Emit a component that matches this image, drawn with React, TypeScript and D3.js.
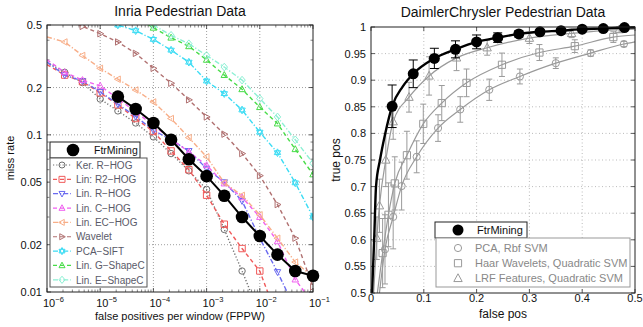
import * as d3 from "d3";

const FONT = '"Liberation Sans", Arial, Helvetica, sans-serif';

// ---------- Inria Pedestrian Data (log-log) ----------
const FPPW = [1e-6, 2.15e-6, 4.64e-6, 1e-5, 2.15e-5, 4.64e-5, 1e-4, 2.15e-4, 4.64e-4, 1e-3, 2.15e-3, 4.64e-3, 1e-2, 2.15e-2, 4.64e-2, 1e-1];
const ftrMiningMiss = [null, null, null, null, 0.175, 0.146, 0.119, 0.093, 0.07, 0.0546, 0.041, 0.03, 0.0227, 0.0173, 0.0136, 0.0127];
const kerRHogMiss = [0.29, 0.25, 0.215, 0.169, 0.142, 0.119, 0.097, 0.076, 0.059, 0.045, 0.025, 0.0136, 0.0072, null, null, null];
const linR2HogMiss = [0.28, 0.24, 0.218, 0.185, 0.155, 0.127, 0.105, 0.079, 0.06, 0.0413, 0.027, 0.0189, 0.0136, 0.0068, null, null];
const linRHogMiss = [0.29, 0.24, 0.22, 0.188, 0.157, 0.131, 0.107, 0.093, 0.079, 0.061, 0.05, 0.038, 0.022, 0.0134, 0.0078, null];
const linCHogMiss = [0.3, 0.25, 0.223, 0.205, 0.17, 0.14, 0.115, 0.094, 0.078, 0.064, 0.049, 0.04, 0.03, 0.021, 0.012, 0.0085];
const linECHogMiss = [0.42, 0.39, 0.32, 0.265, 0.226, 0.193, 0.162, 0.127, 0.096, 0.0725, 0.0495, 0.0412, 0.031, 0.022, 0.0155, 0.0125];
const waveletMiss = [null, 0.55, 0.49, 0.44, 0.39, 0.33, 0.265, 0.213, 0.167, 0.13, 0.101, 0.076, 0.055, 0.036, 0.022, 0.0108];
const pcaSiftMiss = [null, null, null, 0.56, 0.5, 0.46, 0.405, 0.346, 0.29, 0.22, 0.183, 0.144, 0.104, 0.077, 0.0495, 0.03];
const linGShapeMiss = [null, null, null, null, null, 0.56, 0.48, 0.415, 0.366, 0.3, 0.24, 0.195, 0.15, 0.118, 0.081, 0.056];
const linEShapeMiss = [null, null, null, null, null, null, 0.5, 0.43, 0.38, 0.32, 0.27, 0.223, 0.17, 0.13, 0.093, 0.066];

const INRIA_X_TICKS = [-6, -5, -4, -3, -2, -1];
const INRIA_Y_TICKS = [0.01, 0.02, 0.05, 0.1, 0.2, 0.5];

type Marker = "circle" | "square" | "down" | "up" | "left" | "right" | "hex" | "diamond";

const inriaSeries: { label: string; values: (number | null)[]; color: string; dash: string; marker: Marker }[] = [
  { label: "Ker. R\u2212HOG", values: kerRHogMiss, color: "#707070", dash: "1.2 2", marker: "circle" },
  { label: "Lin: R2\u2212HOG", values: linR2HogMiss, color: "#f05a5a", dash: "4 3", marker: "square" },
  { label: "Lin. R\u2212HOG", values: linRHogMiss, color: "#6a6af0", dash: "5 2 1.2 2", marker: "down" },
  { label: "Lin. C\u2212HOG", values: linCHogMiss, color: "#f060f0", dash: "4 3", marker: "up" },
  { label: "Lin. EC\u2212HOG", values: linECHogMiss, color: "#f8ae88", dash: "5 2 1.2 2", marker: "left" },
  { label: "Wavelet", values: waveletMiss, color: "#b07070", dash: "4 3", marker: "right" },
  { label: "PCA\u2212SIFT", values: pcaSiftMiss, color: "#3adcf4", dash: "5 2 1.2 2", marker: "hex" },
  { label: "Lin. G\u2212ShapeC", values: linGShapeMiss, color: "#48dc48", dash: "4 3", marker: "up" },
  { label: "Lin. E\u2212ShapeC", values: linEShapeMiss, color: "#8cf0d4", dash: "5 2 1.2 2", marker: "diamond" },
];

// ---------- DaimlerChrysler Pedestrian Data ----------
const ftrFP = [0.04, 0.08, 0.12, 0.16, 0.2, 0.24, 0.28, 0.32, 0.36, 0.4, 0.44, 0.48];
const ftrTP = [0.851, 0.912, 0.941, 0.958, 0.972, 0.98, 0.987, 0.991, 0.993, 0.996, 0.997, 0.999];
const ftrErr = [0.04, 0.026, 0.019, 0.016, 0.013, 0.009, 0.006, 0.004, 0.003, 0.002, 0.002, 0.001];
const ftrCurveFP = [0.002, 0.006, 0.0095, 0.017, 0.027, 0.04, 0.06, 0.08, 0.12, 0.16, 0.2, 0.24, 0.28, 0.32, 0.36, 0.4, 0.44, 0.48, 0.5];
const ftrCurveTP = [0.5, 0.6, 0.7, 0.75, 0.8, 0.851, 0.888, 0.912, 0.941, 0.958, 0.972, 0.98, 0.987, 0.991, 0.993, 0.996, 0.997, 0.999, 0.999];

const pcaFP = [0.0265, 0.042, 0.058, 0.0865, 0.127, 0.169, 0.224, 0.282, 0.35, 0.416, 0.479];
const pcaTP = [0.582, 0.643, 0.701, 0.756, 0.81, 0.845, 0.882, 0.907, 0.932, 0.951, 0.968];
const pcaErr = [0.065, 0.06, 0.045, 0.03, 0.025, 0.024, 0.02, 0.014, 0.01, 0.006, 0.005];
const pcaCurveEnds = [[0.016, 0.5], [0.5, 0.972]];

const haarFP = [0.022, 0.033, 0.045, 0.068, 0.099, 0.134, 0.181, 0.248, 0.319, 0.386, 0.459];
const haarTP = [0.575, 0.647, 0.706, 0.759, 0.818, 0.857, 0.895, 0.929, 0.952, 0.964, 0.981];
const haarErr = [0.065, 0.06, 0.05, 0.045, 0.037, 0.033, 0.026, 0.022, 0.015, 0.012, 0.01];
const haarCurveEnds = [[0.012, 0.5], [0.5, 0.985]];

const lrfFP = [0.011, 0.016, 0.028, 0.042, 0.072, 0.11, 0.162, 0.22, 0.3, 0.38, 0.47];
const lrfTP = [0.603, 0.664, 0.75, 0.822, 0.868, 0.908, 0.942, 0.961, 0.979, 0.988, 0.995];
const lrfErr = [0.04, 0.05, 0.05, 0.033, 0.028, 0.036, 0.024, 0.014, 0.01, 0.008, 0.005];
const lrfCurveEnds = [[0.005, 0.5], [0.5, 0.996]];

const DC_X_TICKS = [0, 0.1, 0.2, 0.3, 0.4, 0.5];
const DC_Y_TICKS = [0.5, 0.55, 0.6, 0.65, 0.7, 0.75, 0.8, 0.85, 0.9, 0.95, 1];

const dcSeries: { label: string; fp: number[]; tp: number[]; err: number[]; ends: number[][]; marker: Marker }[] = [
  { label: "PCA, Rbf SVM", fp: pcaFP, tp: pcaTP, err: pcaErr, ends: pcaCurveEnds, marker: "circle" },
  { label: "Haar Wavelets, Quadratic SVM", fp: haarFP, tp: haarTP, err: haarErr, ends: haarCurveEnds, marker: "square" },
  { label: "LRF Features, Quadratic SVM", fp: lrfFP, tp: lrfTP, err: lrfErr, ends: lrfCurveEnds, marker: "up" },
];

function markerPath(kind: Marker, cx: number, cy: number, s: number): string {
  switch (kind) {
    case "square":
      return `M${cx - s},${cy - s}H${cx + s}V${cy + s}H${cx - s}Z`;
    case "up":
      return `M${cx},${cy - s * 1.1}L${cx + s},${cy + s * 0.75}L${cx - s},${cy + s * 0.75}Z`;
    case "down":
      return `M${cx},${cy + s * 1.1}L${cx + s},${cy - s * 0.75}L${cx - s},${cy - s * 0.75}Z`;
    case "left":
      return `M${cx - s * 1.1},${cy}L${cx + s * 0.75},${cy - s}L${cx + s * 0.75},${cy + s}Z`;
    case "right":
      return `M${cx + s * 1.1},${cy}L${cx - s * 0.75},${cy - s}L${cx - s * 0.75},${cy + s}Z`;
    case "diamond":
      return `M${cx},${cy - s * 1.2}L${cx + s},${cy}L${cx},${cy + s * 1.2}L${cx - s},${cy}Z`;
    case "hex":
      return (
        `M${cx},${cy - s * 1.2}L${cx + s},${cy + s * 0.6}L${cx - s},${cy + s * 0.6}Z` +
        `M${cx},${cy + s * 1.2}L${cx + s},${cy - s * 0.6}L${cx - s},${cy - s * 0.6}Z`
      );
    default: {
      const r = s;
      return `M${cx - r},${cy}A${r},${r} 0 1,0 ${cx + r},${cy}A${r},${r} 0 1,0 ${cx - r},${cy}Z`;
    }
  }
}

const L = { left: 47, right: 313, top: 25, bottom: 292 };
const R = { left: 371, right: 635, top: 27, bottom: 293 };

function InriaChart() {
  const x = d3.scaleLog().domain([1e-6, 1e-1]).range([L.left, L.right]);
  const y = d3.scaleLog().domain([0.01, 0.5]).range([L.bottom, L.top]);
  const line = d3
    .line<[number, number | null]>()
    .defined((d) => d[1] != null)
    .x((d) => x(d[0]))
    .y((d) => y(d[1] as number));

  const minorX: number[] = [];
  for (let e = -6; e < -1; e++) for (let m = 2; m <= 9; m++) minorX.push(m * Math.pow(10, e));
  const minorY: number[] = [];
  for (let e = -2; e < 0; e++) for (let m = 1; m <= 9; m++) {
    const v = m * Math.pow(10, e);
    if (v <= 0.5 && !INRIA_Y_TICKS.includes(+v.toFixed(4))) minorY.push(v);
  }

  const ftrPts = FPPW.map((f, i) => [f, ftrMiningMiss[i]] as [number, number | null]);

  return (
    <g fontFamily={FONT}>
      <defs>
        <clipPath id="clipL">
          <rect x={L.left} y={L.top} width={L.right - L.left} height={L.bottom - L.top} />
        </clipPath>
      </defs>
      <rect x={L.left} y={L.top} width={L.right - L.left} height={L.bottom - L.top} fill="#fff" />
      {/* grid */}
      {INRIA_X_TICKS.slice(1, -1).map((e) => (
        <line key={"gx" + e} x1={x(Math.pow(10, e))} x2={x(Math.pow(10, e))} y1={L.top} y2={L.bottom} stroke="#888" strokeWidth={0.8} strokeDasharray="1 2" />
      ))}
      {INRIA_Y_TICKS.slice(1, -1).map((v) => (
        <line key={"gy" + v} x1={L.left} x2={L.right} y1={y(v)} y2={y(v)} stroke="#888" strokeWidth={0.8} strokeDasharray="1 2" />
      ))}
      {/* ticks */}
      {minorX.map((v, i) => (
        <g key={"mx" + i} stroke="#333" strokeWidth={0.6}>
          <line x1={x(v)} x2={x(v)} y1={L.bottom} y2={L.bottom - 2.5} />
          <line x1={x(v)} x2={x(v)} y1={L.top} y2={L.top + 2.5} />
        </g>
      ))}
      {INRIA_X_TICKS.map((e) => (
        <g key={"tx" + e} stroke="#333" strokeWidth={0.8}>
          <line x1={x(Math.pow(10, e))} x2={x(Math.pow(10, e))} y1={L.bottom} y2={L.bottom - 4} />
          <line x1={x(Math.pow(10, e))} x2={x(Math.pow(10, e))} y1={L.top} y2={L.top + 4} />
        </g>
      ))}
      {minorY.map((v, i) => (
        <g key={"my" + i} stroke="#333" strokeWidth={0.6}>
          <line x1={L.left} x2={L.left + 2.5} y1={y(v)} y2={y(v)} />
          <line x1={L.right} x2={L.right - 2.5} y1={y(v)} y2={y(v)} />
        </g>
      ))}
      {INRIA_Y_TICKS.map((v) => (
        <g key={"ty" + v}>
          <line x1={L.left} x2={L.left + 4} y1={y(v)} y2={y(v)} stroke="#333" strokeWidth={0.8} />
          <line x1={L.right} x2={L.right - 4} y1={y(v)} y2={y(v)} stroke="#333" strokeWidth={0.8} />
          <text x={42} y={y(v) + 4} textAnchor="end" fontSize={11} fill="#111">
            {String(v)}
          </text>
        </g>
      ))}
      {INRIA_X_TICKS.map((e) => (
        <text key={"lx" + e} x={x(Math.pow(10, e)) - 4} y={306.5} fontSize={11} fill="#111">
          10
          <tspan dy={-5} fontSize={7.5}>{`\u2212${-e}`}</tspan>
        </text>
      ))}
      {/* series */}
      <g clipPath="url(#clipL)">
        {inriaSeries.map((s) => {
          const pts = FPPW.map((f, i) => [f, s.values[i]] as [number, number | null]);
          return (
            <g key={s.label}>
              <path d={line(pts) ?? ""} fill="none" stroke={s.color} strokeWidth={1.4} strokeDasharray={s.dash} />
              {pts
                .filter((p, i) => p[1] != null && i > 0)
                .map((p, i) => (
                  <path key={i} d={markerPath(s.marker, x(p[0]), y(p[1] as number), 3.2)} fill="none" stroke={s.color} strokeWidth={1} />
                ))}
            </g>
          );
        })}
        <path d={line(ftrPts) ?? ""} fill="none" stroke="#000" strokeWidth={2} />
      </g>
      <rect x={L.left} y={L.top} width={L.right - L.left} height={L.bottom - L.top} fill="none" stroke="#222" strokeWidth={1} />
      {ftrPts
        .filter((p) => p[1] != null)
        .map((p, i) => (
          <circle key={i} cx={x(p[0])} cy={y(p[1] as number)} r={6.3} fill="#000" />
        ))}
      {/* legend */}
      <rect x={50} y={142} width={90} height={16} fill="#fff" stroke="#222" strokeWidth={1} />
      <circle cx={73} cy={150} r={6.3} fill="#000" />
      <text x={94} y={154} fontSize={10.5} fill="#111">FtrMining</text>
      <rect x={50} y={158} width={97} height={129} fill="#fff" stroke="#555" strokeWidth={1} />
      {inriaSeries.map((s, i) => {
        const ly = 165 + i * 14.35;
        return (
          <g key={"lg" + s.label}>
            <line x1={53} x2={71} y1={ly} y2={ly} stroke={s.color} strokeWidth={1.2} strokeDasharray={s.dash} />
            <path d={markerPath(s.marker, 62, ly, 3)} fill="none" stroke={s.color} strokeWidth={1} />
            <text x={76} y={ly + 3.7} fontSize={10} fill="#5a5a68">{s.label}</text>
          </g>
        );
      })}
      {/* titles */}
      <text x={180} y={16} textAnchor="middle" fontSize={14} fill="#111">Inria Pedestrian Data</text>
      <text x={180} y={320} textAnchor="middle" fontSize={11} fill="#111">false positives per window (FPPW)</text>
      <text transform={`translate(14,158) rotate(-90)`} textAnchor="middle" fontSize={11} fill="#111">miss rate</text>
    </g>
  );
}

function DaimlerChart() {
  const x = d3.scaleLinear().domain([0, 0.5]).range([R.left, R.right]);
  const y = d3.scaleLinear().domain([0.5, 1]).range([R.bottom, R.top]);
  const smooth = d3
    .line<number[]>()
    .x((d) => x(d[0]))
    .y((d) => y(d[1]))
    .curve(d3.curveMonotoneX);
  const gray = "#9a9a9a";
  const ftrCurve = ftrCurveFP.map((f, i) => [f, ftrCurveTP[i]]);

  return (
    <g fontFamily={FONT}>
      <defs>
        <clipPath id="clipR">
          <rect x={R.left} y={R.top - 8} width={R.right - R.left} height={R.bottom - R.top + 8} />
        </clipPath>
      </defs>
      <rect x={R.left} y={R.top} width={R.right - R.left} height={R.bottom - R.top} fill="#fff" />
      {DC_X_TICKS.slice(1, -1).map((v) => (
        <line key={"gx" + v} x1={x(v)} x2={x(v)} y1={R.top} y2={R.bottom} stroke="#aaa" strokeWidth={0.8} strokeDasharray="1 2.5" />
      ))}
      {DC_Y_TICKS.slice(1, -1).map((v) => (
        <line key={"gy" + v} x1={R.left} x2={R.right} y1={y(v)} y2={y(v)} stroke="#aaa" strokeWidth={0.8} strokeDasharray="1 2.5" />
      ))}
      {DC_X_TICKS.map((v) => (
        <g key={"tx" + v}>
          <line x1={x(v)} x2={x(v)} y1={R.bottom} y2={R.bottom - 4} stroke="#333" strokeWidth={0.8} />
          <line x1={x(v)} x2={x(v)} y1={R.top} y2={R.top + 4} stroke="#333" strokeWidth={0.8} />
          <text x={x(v)} y={302} textAnchor="middle" fontSize={11} fill="#111">{String(v)}</text>
        </g>
      ))}
      {DC_Y_TICKS.map((v) => (
        <g key={"ty" + v}>
          <line x1={R.left} x2={R.left + 4} y1={y(v)} y2={y(v)} stroke="#333" strokeWidth={0.8} />
          <line x1={R.right} x2={R.right - 4} y1={y(v)} y2={y(v)} stroke="#333" strokeWidth={0.8} />
          <text x={366} y={y(v) + 4} textAnchor="end" fontSize={11} fill="#111">{String(v)}</text>
        </g>
      ))}
      <g clipPath="url(#clipR)">
        {dcSeries.map((s) => {
          const pts = s.fp.map((f, i) => [f, s.tp[i]]);
          const curve = [s.ends[0], ...pts, s.ends[1]];
          return (
            <g key={s.label}>
              <path d={smooth(curve) ?? ""} fill="none" stroke={gray} strokeWidth={1.2} />
              {pts.map((p, i) => (
                <g key={i} stroke={gray} strokeWidth={1}>
                  <line x1={x(p[0])} x2={x(p[0])} y1={y(p[1] - s.err[i])} y2={y(p[1] + s.err[i])} />
                  <line x1={x(p[0]) - 3} x2={x(p[0]) + 3} y1={y(p[1] - s.err[i])} y2={y(p[1] - s.err[i])} />
                  <line x1={x(p[0]) - 3} x2={x(p[0]) + 3} y1={y(p[1] + s.err[i])} y2={y(p[1] + s.err[i])} />
                  <path d={markerPath(s.marker, x(p[0]), y(p[1]), s.marker === "up" ? 4.2 : 3.6)} fill="none" />
                </g>
              ))}
            </g>
          );
        })}
        <path d={smooth(ftrCurve) ?? ""} fill="none" stroke="#000" strokeWidth={2.4} />
        {ftrFP.map((f, i) => (
          <g key={"fe" + i} stroke="#000" strokeWidth={1}>
            <line x1={x(f)} x2={x(f)} y1={y(ftrTP[i] - ftrErr[i])} y2={y(ftrTP[i] + ftrErr[i])} />
            <line x1={x(f) - 4.5} x2={x(f) + 4.5} y1={y(ftrTP[i] - ftrErr[i])} y2={y(ftrTP[i] - ftrErr[i])} />
            <line x1={x(f) - 4.5} x2={x(f) + 4.5} y1={y(ftrTP[i] + ftrErr[i])} y2={y(ftrTP[i] + ftrErr[i])} />
          </g>
        ))}
        {ftrFP.map((f, i) => (
          <circle key={"fc" + i} cx={x(f)} cy={y(ftrTP[i])} r={5.5} fill="#000" />
        ))}
      </g>
      <rect x={R.left} y={R.top} width={R.right - R.left} height={R.bottom - R.top} fill="none" stroke="#222" strokeWidth={1} />
      {/* legend */}
      <rect x={435} y={222} width={92} height={16} fill="#fff" stroke="#222" strokeWidth={1} />
      <circle cx={458} cy={230} r={5.5} fill="#000" />
      <text x={477} y={234} fontSize={11} fill="#111">FtrMining</text>
      <rect x={436} y={238} width={194} height={49} fill="#fff" stroke="#999" strokeWidth={1} />
      {dcSeries.map((s, i) => {
        const ly = 248 + i * 15.2;
        return (
          <g key={"lg" + s.label}>
            <path d={markerPath(s.marker, 458, ly, s.marker === "up" ? 4.2 : 3.6)} fill="none" stroke={gray} strokeWidth={1} />
            <text x={475} y={ly + 4} fontSize={11} fill="#888">{s.label}</text>
          </g>
        );
      })}
      <text x={503} y={17} textAnchor="middle" fontSize={14} fill="#111">DaimlerChrysler Pedestrian Data</text>
      <text x={503} y={318} textAnchor="middle" fontSize={12} fill="#111">false pos</text>
      <text transform={`translate(340,160) rotate(-90)`} textAnchor="middle" fontSize={12} fill="#111">true pos</text>
    </g>
  );
}

export default function App() {
  return (
    <svg
      width={643}
      height={327}
      viewBox="0 0 643 327"
      style={{ position: "absolute", left: 0, top: 0, background: "#fff" }}
    >
      <rect width={643} height={327} fill="#fff" />
      <InriaChart />
      <DaimlerChart />
    </svg>
  );
}
